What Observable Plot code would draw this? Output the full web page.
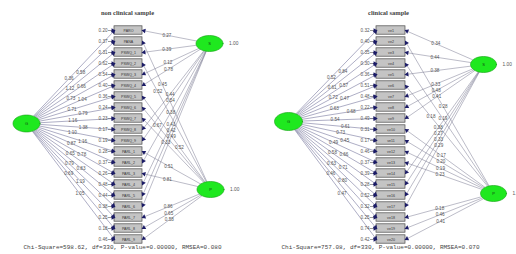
<!DOCTYPE html>
<html><head><meta charset="utf-8">
<script src="https://cdn.jsdelivr.net/npm/d3@7"></script>
<script src="https://cdn.jsdelivr.net/npm/@observablehq/plot@0.6"></script>
<style>body{margin:0;background:#fff}</style>
</head><body><div id="chart"></div>
<script>
// ---- data ----
const titles = ["non clinical sample", "clinical sample"];
const captions = [
  "Chi-Square=598.62, df=330, P-value=0.00000, RMSEA=0.080",
  "Chi-Square=757.08, df=330, P-value=0.00000, RMSEA=0.070"
];
const factorNames = ["G", "S", "P"];
const factorVar = ["1.00", "1.00"];

const itemsNC = ["PARO","PANA","PSWQ_1","PSWQ_2","PSWQ_3","PSWQ_4","PSWQ_5","PSWQ_6","PSWQ_7","PSWQ_8",
                 "PSWQ_9","PARL_1","PARL_2","PARL_3","PARL_4","PARL_5","PARL_6","PARL_7","PARL_8","PARL_9"];
const errNC = ["0.20","0.37","0.31","0.62","0.54","0.40","0.36","0.24","0.23","0.17",
               "0.19","0.28","0.37","0.26","0.48","0.44","0.38","0.25","0.18","0.46"];
const genNC = ["0.36","0.58","1.12","0.66","0.73","1.04","0.71","0.79","1.16","1.38",
               "1.10","1.16","0.87","0.78","0.65","0.83","0.79","1.19","0.69","1.05"];
const s1ItemsNC = [0, 2, 4, 5, 9, 10, 12, 14, 15, 16];
const s1NC = ["0.27","0.39","0.12","0.78","0.44","0.54","0.38","0.41","0.42","0.49"];
const s2ItemsNC = [1, 3, 6, 7, 8, 11, 13, 17, 18, 19];
const s2NC = ["0.45","0.52","0.52","0.67","0.33","0.51","0.81","0.86","0.65","0.58"];

const itemsC = ["ve1","ve2","ve3","ve4","ve5","ve6","ve7","ve8","ve9","ve10",
                "ve11","ve12","ve13","ve14","ve15","ve16","ve17","ve18","ve19","ve20"];
const errC = ["0.32","0.40","0.35","0.30","0.36","0.51","0.48","0.22","0.49","0.31",
              "0.17","0.46","0.37","0.39","0.28","0.52","0.32","0.25","0.74","0.42"];
const genC = ["0.52","0.84","0.61","0.57","0.72","0.47","0.63","0.68","0.54","0.61",
              "0.73","0.45","0.49","0.66","0.58","0.71","0.63","0.80","0.46","0.47"];
const s1ItemsC = [0, 2, 4, 6, 7, 8, 13, 14, 15, 16];
const s1C = ["0.34","0.44","0.38","0.33","0.48","0.41","0.38","0.27","0.33","0.29"];
const s2ItemsC = [1, 3, 5, 9, 10, 11, 12, 17, 18, 19];
const s2C = ["0.28","0.19","0.18","0.17","0.20","0.19","0.23","0.18","0.46","0.41"];

// ---- layout (drawing geometry only) ----
const panels = [
  {title: titles[0], cap: captions[0], items: itemsNC, err: errNC, gen: genNC,
   s1i: s1ItemsNC, s1: s1NC, s2i: s2ItemsNC, s2: s2NC,
   bx1: 114, bx2: 142, tx: 127, cx: 122,
   F: {cx: 26, cy: 123, rx: 13.5, ry: 8.5}, S1: {cx: 209, cy: 43, rx: 13.5, ry: 8}, S2: {cx: 210, cy: 189, rx: 13.5, ry: 8}},
  {title: titles[1], cap: captions[1], items: itemsC, err: errC, gen: genC,
   s1i: s1ItemsC, s1: s1C, s2i: s2ItemsC, s2: s2C,
   bx1: 376, bx2: 405, tx: 388, cx: 380,
   F: {cx: 288, cy: 121, rx: 14, ry: 9}, S1: {cx: 483, cy: 64, rx: 13, ry: 8}, S2: {cx: 493, cy: 193, rx: 13, ry: 8}}
];
const top0 = 30, step = 11, bh = 4.2, fs = 4.6;

const boxes = [], links = [], heads = [], labels = [], errLabels = [], ells = [], ellText = [], varText = [], titleT = [], capT = [];

function edge(e, tx, ty) {
  const dx = tx - e.cx, dy = ty - e.cy;
  const t = 1 / Math.sqrt((dx / e.rx) ** 2 + (dy / e.ry) ** 2);
  return [e.cx + t * dx, e.cy + t * dy];
}
function addArrow(x1, y1, x2, y2, kind) {
  links.push({x1, y1, x2, y2, kind});
  const L = Math.hypot(x2 - x1, y2 - y1), ux = (x2 - x1) / L, uy = (y2 - y1) / L;
  heads.push({x: x2 - ux * 1.6, y: y2 - uy * 1.6, a: Math.atan2(ux, -uy) * 180 / Math.PI});
}
let placed = [];
function place(sx, sy, ex, ey, t, cands) {
  const w = t.length * fs * 0.56 + 0.6, h = fs + 0.4;
  let best = null, bestHits = Infinity;
  for (const f of cands) {
    const x = sx + f * (ex - sx), y = sy + f * (ey - sy);
    const hits = placed.filter(b => Math.abs(b.x - x) < (b.w + w) / 2 && Math.abs(b.y - y) < (b.h + h) / 2).length;
    if (hits < bestHits) { bestHits = hits; best = {x, y, w, h}; }
    if (hits === 0) break;
  }
  placed.push(best);
  labels.push({x: best.x, y: best.y, t});
}

panels.forEach((p, pi) => {
  placed = [];
  titleT.push({x: p.tx, y: 12, t: p.title});
  capT.push({x: p.cx, y: 247, t: p.cap});
  p.items.forEach((name, i) => {
    const yc = top0 + i * step;
    boxes.push({x1: p.bx1, x2: p.bx2, y1: yc - bh, y2: yc + bh, name, xc: (p.bx1 + p.bx2) / 2, yc});
    errLabels.push({x: p.bx1 - 7, y: yc, t: p.err[i]});
    addArrow(p.bx1 - 6.5, yc, p.bx1, yc, "err");
    const [sx, sy] = edge(p.F, p.bx1, yc);
    addArrow(sx, sy, p.bx1, yc, "gen");
    place(sx, sy, p.bx1, yc, p.gen[i], i % 2 ? [0.58, 0.66, 0.5] : [0.44, 0.52, 0.36]);
  });
  [[p.S1, p.s1i, p.s1], [p.S2, p.s2i, p.s2]].forEach(([E, idx, vals]) => {
    idx.forEach((i, j) => {
      const yc = top0 + i * step;
      const [sx, sy] = edge(E, p.bx2, yc);
      addArrow(sx, sy, p.bx2, yc, "spec");
      place(sx, sy, p.bx2, yc, vals[j], [0.55, 0.62, 0.48, 0.69, 0.41, 0.76, 0.34, 0.82, 0.28]);
    });
  });
  [p.F, p.S1, p.S2].forEach((E, k) => {
    const id = pi * 3 + k;
    for (let a = 0; a <= 48; a++) {
      const th = a / 48 * 2 * Math.PI;
      ells.push({id, x: E.cx + E.rx * Math.cos(th), y: E.cy + E.ry * Math.sin(th)});
    }
    ellText.push({x: E.cx, y: E.cy, t: factorNames[k]});
    if (k > 0) varText.push({x: E.cx + E.rx + 6, y: E.cy, t: factorVar[k - 1]});
  });
});

const chart = Plot.plot({
  width: 516, height: 254, margin: 0,
  x: {domain: [0, 516], range: [0, 516], axis: null},
  y: {domain: [0, 254], range: [0, 254], axis: null},
  style: {background: "#fff"},
  marks: [
    Plot.link(links, {x1: "x1", y1: "y1", x2: "x2", y2: "y2",
      stroke: d => d.kind === "gen" ? "#5a5a88" : d.kind === "spec" ? "#77778f" : "#333",
      strokeWidth: 0.55, strokeOpacity: 0.9}),
    Plot.rect(boxes, {x1: "x1", x2: "x2", y1: "y1", y2: "y2", fill: "#c4c4c4", stroke: "#4a4a4a", strokeWidth: 0.7}),
    Plot.text(boxes, {x: "xc", y: "yc", text: "name", fontSize: 3.6, fill: "#333", fontFamily: "Liberation Sans"}),
    Plot.dot(heads, {x: "x", y: "y", symbol: "triangle", r: 1.7, fill: "#1b1b66", stroke: null, rotate: "a"}),
    Plot.text(labels, {x: "x", y: "y", text: "t", fontSize: fs, fill: "#555", fontFamily: "Liberation Sans"}),
    Plot.text(errLabels, {x: "x", y: "y", text: "t", fontSize: fs, fill: "#555", textAnchor: "end", fontFamily: "Liberation Sans"}),
    Plot.line(ells, {x: "x", y: "y", z: "id", fill: "#1fe81f", stroke: "#14a014", strokeWidth: 0.6, curve: "linear-closed"}),
    Plot.text(ellText, {x: "x", y: "y", text: "t", fontSize: 4, fill: "#124412", fontFamily: "Liberation Sans"}),
    Plot.text(varText, {x: "x", y: "y", text: "t", fontSize: 4.8, fill: "#555", textAnchor: "start", fontFamily: "Liberation Sans"}),
    Plot.text(titleT, {x: "x", y: "y", text: "t", fontSize: 6.5, fontWeight: "bold", fill: "#444", fontFamily: "Liberation Serif"}),
    Plot.text(capT, {x: "x", y: "y", text: "t", fontSize: 6, fill: "#444", fontFamily: "Liberation Mono"})
  ]
});
document.getElementById("chart").appendChild(chart);
</script>
</body></html>
